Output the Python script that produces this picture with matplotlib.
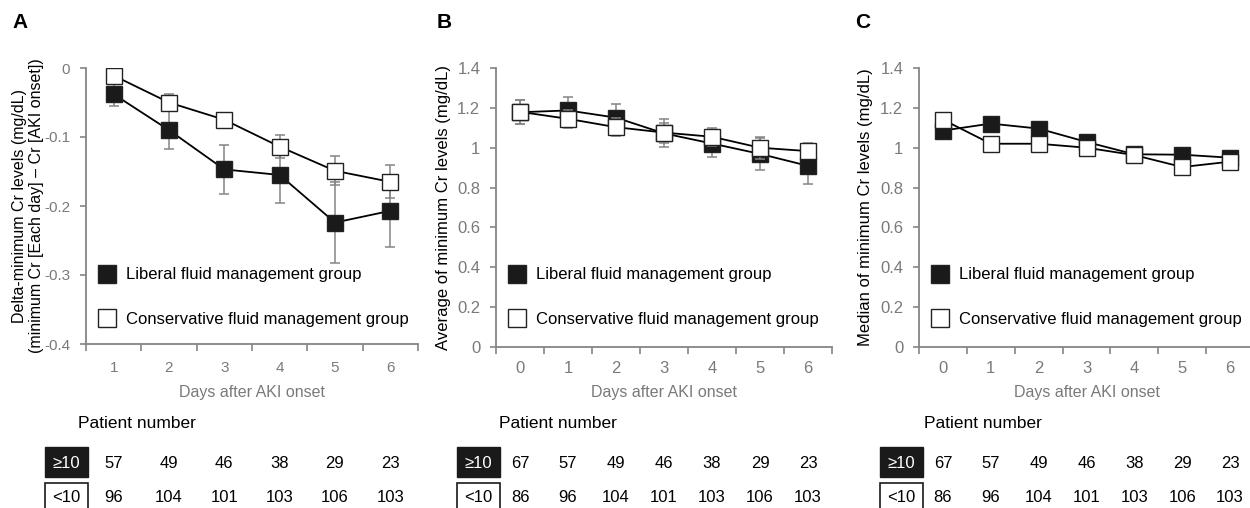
import matplotlib
matplotlib.use("Agg")
import matplotlib.pyplot as plt
from matplotlib.patches import Rectangle
from matplotlib.lines import Line2D
from matplotlib.transforms import blended_transform_factory
import numpy as np

plt.rcParams['font.family'] = ['Liberation Sans', 'DejaVu Sans']
plt.rcParams['axes.unicode_minus'] = False

# ---------------- data ----------------
days_A = [1, 2, 3, 4, 5, 6]
lib_A = [-0.038, -0.090, -0.147, -0.155, -0.224, -0.207]
lib_A_err = [0.017, 0.028, 0.035, 0.040, 0.059, 0.052]
con_A = [-0.011, -0.050, -0.075, -0.114, -0.149, -0.165]
con_A_err = [0.008, 0.012, 0.010, 0.017, 0.021, 0.024]

days_BC = [0, 1, 2, 3, 4, 5, 6]
lib_B = [1.178, 1.187, 1.151, 1.072, 1.021, 0.969, 0.909]
lib_B_err = [0.060, 0.065, 0.070, 0.070, 0.070, 0.080, 0.090]
con_B = [1.180, 1.145, 1.103, 1.076, 1.055, 1.000, 0.983]
con_B_err = [0.060, 0.045, 0.045, 0.050, 0.045, 0.056, 0.040]

lib_C = [1.086, 1.121, 1.096, 1.029, 0.967, 0.965, 0.950]
con_C = [1.141, 1.020, 1.020, 1.000, 0.963, 0.903, 0.930]

n_ge10_A = [57, 49, 46, 38, 29, 23]
n_lt10_A = [96, 104, 101, 103, 106, 103]
n_ge10_BC = [67, 57, 49, 46, 38, 29, 23]
n_lt10_BC = [86, 96, 104, 101, 103, 106, 103]

label_lib = "Liberal fluid management group"
label_con = "Conservative fluid management group"

# ---------------- figure ----------------
W, H = 1250, 508
fig = plt.figure(figsize=(W / 100, H / 100), dpi=100)

def fx(px):
    return px / W

def fy(py):
    return 1 - py / H

def make_ax(l, r, t, b):
    return fig.add_axes([fx(l), fy(b), fx(r) - fx(l), fy(t) - fy(b)])

GRAY = '#858585'
TXTGRAY = '#7a7a7a'
ms = 11

axA = make_ax(86, 418, 68, 344)
axB = make_ax(496, 832, 68, 347)
axC = make_ax(919, 1254, 68, 347)

def style(ax, xlim, ylim, yticks, tickfs, xtickfs, xpad):
    for s in ['top', 'right']:
        ax.spines[s].set_visible(False)
    for s in ['left', 'bottom']:
        ax.spines[s].set_color(GRAY)
        ax.spines[s].set_linewidth(1.3)
    ax.set_xlim(*xlim)
    ax.set_ylim(*ylim)
    ax.set_yticks(yticks)
    ax.set_yticklabels(['%g' % v for v in yticks])
    ax.tick_params(axis='y', direction='out', length=4.3, color=GRAY,
                   labelcolor=TXTGRAY, labelsize=tickfs, width=1.2, pad=7)
    xt = np.arange(int(np.ceil(xlim[0])), int(xlim[1]) + 1)
    ax.set_xticks(xt)
    ax.set_xticks(np.arange(xlim[0], xlim[1] + 0.01, 1.0), minor=True)
    ax.tick_params(axis='x', which='major', length=0, labelcolor=TXTGRAY,
                   labelsize=xtickfs, pad=xpad)
    ax.tick_params(axis='x', which='minor', direction='out', length=5,
                   color=GRAY, width=1.2)
    ax.set_xlabel("Days after AKI onset", color=TXTGRAY, fontsize=11.5)
    ax.xaxis.label.set_va('center')

style(axA, (0.5, 6.5), (-0.4, 0), [0, -0.1, -0.2, -0.3, -0.4], 11, 11, 12)
style(axB, (-0.5, 6.5), (0, 1.4), [0, 0.2, 0.4, 0.6, 0.8, 1, 1.2, 1.4], 12, 12, 10)
style(axC, (-0.5, 6.5), (0, 1.4), [0, 0.2, 0.4, 0.6, 0.8, 1, 1.2, 1.4], 12, 12, 10)

axA.xaxis.set_label_coords(0.5, (344 - 392) / 276)
axB.xaxis.set_label_coords(0.5, (347 - 392) / 279)
axC.xaxis.set_label_coords(0.5, (347 - 392) / 279)

axA.set_ylabel("Delta-minimum Cr levels (mg/dL)\n(minimum Cr [Each day] \u2013 Cr [AKI onset])",
               fontsize=11.5, linespacing=1.2)
axA.yaxis.set_label_coords((44 - 86) / 332, 0.5)
axB.set_ylabel("Average of minimum Cr levels (mg/dL)", fontsize=12)
axB.yaxis.set_label_coords((451 - 496) / 336, 0.5)
axC.set_ylabel("Median of minimum Cr levels (mg/dL)", fontsize=12)
axC.yaxis.set_label_coords((873 - 919) / 335, 0.5)

# ---------------- data marks ----------------
def series(ax, x, y, err, fc, z):
    if err is not None:
        ax.errorbar(x, y, yerr=err, fmt='none', ecolor=GRAY, elinewidth=1.1,
                    capsize=3.5, capthick=1.1, zorder=z)
    ax.plot(x, y, color='black', lw=1.3, marker='s', ms=ms, mfc=fc,
            mec='#222222', mew=1.0, zorder=z + 1)

series(axA, days_A, lib_A, lib_A_err, '#1a1a1a', 2)
series(axA, days_A, con_A, con_A_err, 'white', 4)
series(axB, days_BC, lib_B, lib_B_err, '#1a1a1a', 2)
series(axB, days_BC, con_B, con_B_err, 'white', 4)
series(axC, days_BC, lib_C, None, '#1a1a1a', 2)
series(axC, days_BC, con_C, None, 'white', 4)

# ---------------- legends ----------------
handles = [Line2D([], [], ls='none', marker='s', ms=13, mfc='#1a1a1a', mec='#222222'),
           Line2D([], [], ls='none', marker='s', ms=13, mfc='white', mec='#222222')]
for ax, mx, ax_l, ax_w, ax_b, ax_h in [(axA, 107, 86, 332, 344, 276),
                                        (axB, 517, 496, 336, 347, 279),
                                        (axC, 940, 919, 335, 347, 279)]:
    leg = ax.legend(handles, [label_lib, label_con], loc='center left',
                    bbox_to_anchor=((mx - 8 - ax_l) / ax_w, (ax_b - 297) / ax_h),
                    frameon=False, fontsize=12, handlelength=1.0,
                    handletextpad=0.6, labelspacing=1.75, borderpad=0,
                    borderaxespad=0)

# ---------------- panel letters ----------------
fig.text(fx(12), fy(23), "A", fontsize=15, fontweight='bold', va='center', ha='left')
fig.text(fx(437), fy(23), "B", fontsize=15, fontweight='bold', va='center', ha='left')
fig.text(fx(855), fy(23), "C", fontsize=15, fontweight='bold', va='center', ha='left')

# ---------------- patient number tables ----------------
def table(ax, x, ge, lt, title_px, box_l, box_r):
    fig.text(fx(title_px), fy(423), "Patient number", fontsize=12.5,
             va='center', ha='left')
    tr = blended_transform_factory(ax.transData, fig.transFigure)
    for xi, n in zip(x, ge):
        fig.text(xi, fy(463), str(n), transform=tr, fontsize=12,
                 ha='center', va='center')
    for xi, n in zip(x, lt):
        fig.text(xi, fy(497), str(n), transform=tr, fontsize=12,
                 ha='center', va='center')
    fig.patches.append(Rectangle((fx(box_l), fy(477)), fx(box_r - box_l),
                                 fy(447) - fy(477), transform=fig.transFigure,
                                 fc='#1a1a1a', ec='#1a1a1a', lw=1))
    fig.patches.append(Rectangle((fx(box_l), fy(515)), fx(box_r - box_l),
                                 fy(483) - fy(515), transform=fig.transFigure,
                                 fc='white', ec='#1a1a1a', lw=1.2))
    cx = fx((box_l + box_r) / 2)
    fig.text(cx, fy(463), "\u226510", color='white', fontsize=12,
             ha='center', va='center')
    fig.text(cx, fy(497), "<10", color='black', fontsize=12,
             ha='center', va='center')

table(axA, days_A, n_ge10_A, n_lt10_A, 78, 45, 88)
table(axB, days_BC, n_ge10_BC, n_lt10_BC, 499, 457, 500)
table(axC, days_BC, n_ge10_BC, n_lt10_BC, 924, 880, 923)

fig.savefig("out.png", dpi=100)
